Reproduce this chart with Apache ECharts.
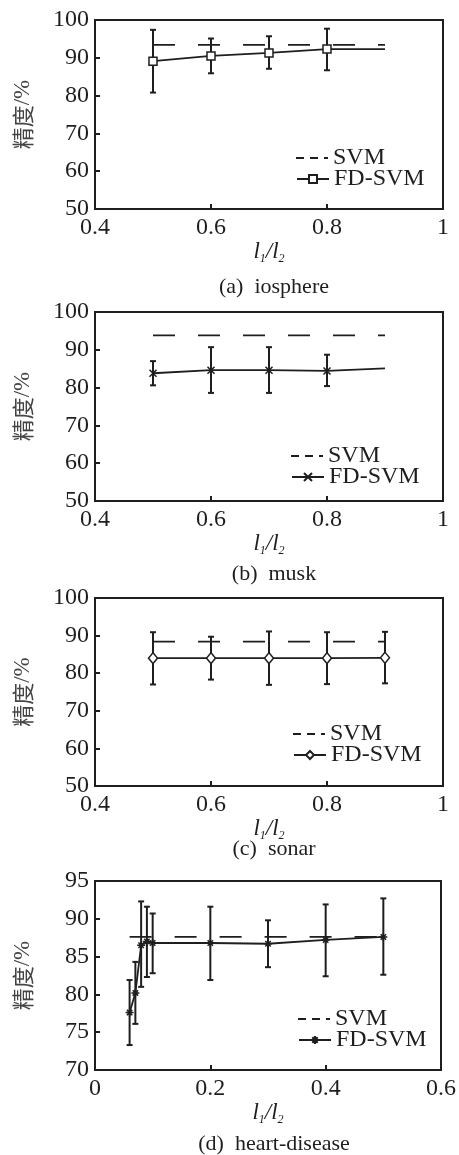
<!DOCTYPE html>
<html>
<head>
<meta charset="utf-8">
<style>html,body{margin:0;padding:0;background:#fff;}#c{width:459px;height:1155px;}</style>
<script src="https://cdn.jsdelivr.net/npm/echarts@6/dist/echarts.min.js"></script>
</head>
<body>
<div id="c"></div>
<script>
// ---- data ----
const captions = ['(a)  iosphere', '(b)  musk', '(c)  sonar', '(d)  heart-disease'];
const tags = ['a', 'b', 'c', 'd'];

const xA = [0.5, 0.6, 0.7, 0.8, 0.9];
const svmA = [93.4, 93.4, 93.4, 93.4, 93.4];
const fdA = [89.1, 90.5, 91.3, 92.3, 92.3];
const errXA = [0.5, 0.6, 0.7, 0.8];
const errLoA = [80.8, 85.9, 87.1, 86.7];
const errHiA = [97.4, 95.1, 95.7, 97.7];

const xB = [0.5, 0.6, 0.7, 0.8, 0.9];
const svmB = [93.8, 93.8, 93.8, 93.8, 93.8];
const fdB = [83.8, 84.6, 84.6, 84.4, 85.1];
const errXB = [0.5, 0.6, 0.7, 0.8];
const errLoB = [80.6, 78.6, 78.6, 80.4];
const errHiB = [87.0, 90.7, 90.7, 88.7];

const xC = [0.5, 0.6, 0.7, 0.8, 0.9];
const svmC = [88.4, 88.4, 88.4, 88.4, 88.4];
const fdC = [84.0, 84.0, 84.0, 84.0, 84.1];
const errXC = [0.5, 0.6, 0.7, 0.8, 0.9];
const errLoC = [77.0, 78.3, 76.9, 77.1, 77.3];
const errHiC = [90.9, 89.7, 91.1, 90.9, 91.0];

const xD = [0.06, 0.07, 0.08, 0.09, 0.1, 0.2, 0.3, 0.4, 0.5];
const svmD = [87.6, 87.6, 87.6, 87.6, 87.6, 87.6, 87.6, 87.6, 87.6];
const fdD = [77.6, 80.2, 86.5, 87.0, 86.8, 86.8, 86.7, 87.2, 87.6];
const errXD = [0.06, 0.07, 0.08, 0.09, 0.1, 0.2, 0.3, 0.4, 0.5];
const errLoD = [73.3, 76.1, 81.0, 82.3, 82.8, 81.9, 83.6, 82.4, 82.6];
const errHiD = [81.9, 84.3, 92.3, 91.6, 90.7, 91.6, 89.8, 91.9, 92.7];

const xTicks = [[0.4, 1, 0.2], [0.4, 1, 0.2], [0.4, 1, 0.2], [0, 0.6, 0.2]];
const yTicks = [[50, 100, 10], [50, 100, 10], [50, 100, 10], [70, 95, 5]];

// ---- styling / layout ----
const SERIF = "'Liberation Serif','Times New Roman',serif";
const INK = '#1e1e1e';
const panels = [
  {top: 20, height: 189, x: xA, svm: svmA, fd: fdA, ex: errXA, lo: errLoA, hi: errHiA, fdSymbolIdx: [0,1,2,3],
   symbol: 'rect', size: 8, fill: '#fff', legTop: 145, legLeft: 296, capTop: 271},
  {top: 312, height: 189, x: xB, svm: svmB, fd: fdB, ex: errXB, lo: errLoB, hi: errHiB, fdSymbolIdx: [0,1,2,3],
   symbol: 'path://M0,0L10,10M10,0L0,10', size: 7, fill: 'none', legTop: 443, legLeft: 291, capTop: 558},
  {top: 598, height: 188, x: xC, svm: svmC, fd: fdC, ex: errXC, lo: errLoC, hi: errHiC, fdSymbolIdx: [0,1,2,3,4],
   symbol: 'diamond', size: [9, 11], fill: '#fff', legTop: 721, legLeft: 293, capTop: 833},
  {top: 881, height: 189, x: xD, svm: svmD, fd: fdD, ex: errXD, lo: errLoD, hi: errHiD, fdSymbolIdx: [0,1,2,3,4,5,6,7,8],
   symbol: 'path://M5,0L5,10M0,5L10,5M1.6,1.6L8.4,8.4M8.4,1.6L1.6,8.4', size: 8, fill: 'none', legTop: 1006, legLeft: 298, capTop: 1128}
];

function zip(a, b) { return a.map((v, i) => [v, b[i]]); }

function renderErr(params, api) {
  const x = api.value(0), lo = api.value(1), hi = api.value(2);
  const p1 = api.coord([x, hi]);
  const p2 = api.coord([x, lo]);
  const w = 3;
  const st = {stroke: INK, lineWidth: 2};
  return {type: 'group', children: [
    {type: 'line', shape: {x1: p1[0], y1: p1[1], x2: p2[0], y2: p2[1]}, style: st},
    {type: 'line', shape: {x1: p1[0] - w, y1: p1[1], x2: p1[0] + w, y2: p1[1]}, style: st},
    {type: 'line', shape: {x1: p2[0] - w, y1: p2[1], x2: p2[0] + w, y2: p2[1]}, style: st}
  ]};
}

const option = {
  backgroundColor: '#fff',
  animation: false,
  grid: [], xAxis: [], yAxis: [], series: [], legend: [], title: []
};

panels.forEach((p, i) => {
  const tag = tags[i];
  option.grid.push({left: 95, width: 348, top: p.top, height: p.height,
    show: true, borderColor: INK, borderWidth: 2, backgroundColor: 'transparent'});
  option.xAxis.push({
    type: 'value', gridIndex: i, min: xTicks[i][0], max: xTicks[i][1], interval: xTicks[i][2],
    axisLine: {show: false}, splitLine: {show: false},
    axisTick: {show: true, inside: true, length: 5, lineStyle: {color: INK, width: 2}},
    axisLabel: {margin: 7, fontFamily: SERIF, fontSize: 24, color: INK,
      formatter: v => String(Math.round(v * 10) / 10)},
    name: '{l|l}{s|1}{l|/l}{s|2}', nameLocation: 'middle', nameGap: 28,
    nameTextStyle: {rich: {
      l: {fontFamily: SERIF, fontStyle: 'italic', fontSize: 23, color: INK, lineHeight: 24},
      s: {fontFamily: SERIF, fontStyle: 'italic', fontSize: 12, color: INK, verticalAlign: 'bottom', lineHeight: 14}
    }}
  });
  option.yAxis.push({
    type: 'value', gridIndex: i, min: yTicks[i][0], max: yTicks[i][1], interval: yTicks[i][2],
    axisLine: {show: false}, splitLine: {show: false},
    axisTick: {show: true, inside: true, length: 5, lineStyle: {color: INK, width: 2}},
    axisLabel: {margin: 6, fontFamily: SERIF, fontSize: 24, color: INK},
    name: '{zh|精度}{en|/%}', nameLocation: 'middle', nameRotate: 90, nameGap: 61,
    nameTextStyle: {rich: {
      zh: {fontFamily: "'Noto Sans CJK SC',sans-serif", fontSize: 22, color: '#444'},
      en: {fontFamily: SERIF, fontSize: 23, color: '#444'}
    }}
  });
  option.series.push({
    type: 'custom', name: 'err' + tag, xAxisIndex: i, yAxisIndex: i, z: 2,
    renderItem: renderErr, encode: {x: 0, y: [1, 2]},
    data: p.ex.map((x, k) => [x, p.lo[k], p.hi[k]])
  });
  option.series.push({
    type: 'line', name: 'SVM#' + tag, xAxisIndex: i, yAxisIndex: i, z: 3,
    data: zip(p.x, p.svm), symbol: 'none',
    itemStyle: {color: INK},
    lineStyle: {color: INK, width: 1.8, type: [22, 23]}
  });
  option.series.push({
    type: 'line', name: 'FD-SVM#' + tag, xAxisIndex: i, yAxisIndex: i, z: 4,
    data: zip(p.x, p.fd).map((d, k) => p.fdSymbolIdx.indexOf(k) >= 0 ? {value: d} : {value: d, symbol: 'none'}),
    symbol: p.symbol, symbolSize: p.size, showAllSymbol: true,
    lineStyle: {color: INK, width: 1.8},
    itemStyle: {color: p.fill, borderColor: INK, borderWidth: 1.5}
  });
  const legText = {fontFamily: SERIF, fontSize: 24, color: INK, lineHeight: 24};
  option.legend.push({
    left: p.legLeft, top: p.legTop + 1, padding: 0, orient: 'vertical', itemWidth: 32, itemHeight: 10, itemGap: 0,
    selectedMode: false, textStyle: legText, formatter: n => n.split('#')[0],
    data: [{name: 'SVM#' + tag, icon: 'path://M0,0h8v1.8h-8zM14,0h8v1.8h-8zM28,0h4v1.8h-4z',
            itemStyle: {color: INK}}]
  });
  option.legend.push({
    left: p.legLeft, top: p.legTop + 22, padding: 0, orient: 'vertical', itemWidth: 32, itemHeight: 10, itemGap: 0,
    selectedMode: false, textStyle: legText, formatter: n => n.split('#')[0],
    data: [{name: 'FD-SVM#' + tag}]
  });
  option.title.push({
    text: captions[i], left: 269, textAlign: 'center', top: p.capTop,
    textStyle: {fontFamily: SERIF, fontSize: 22, fontWeight: 'normal', color: INK}
  });
});

const chart = echarts.init(document.getElementById('c'), null, {renderer: 'canvas'});
chart.setOption(option);
</script>
</body>
</html>
